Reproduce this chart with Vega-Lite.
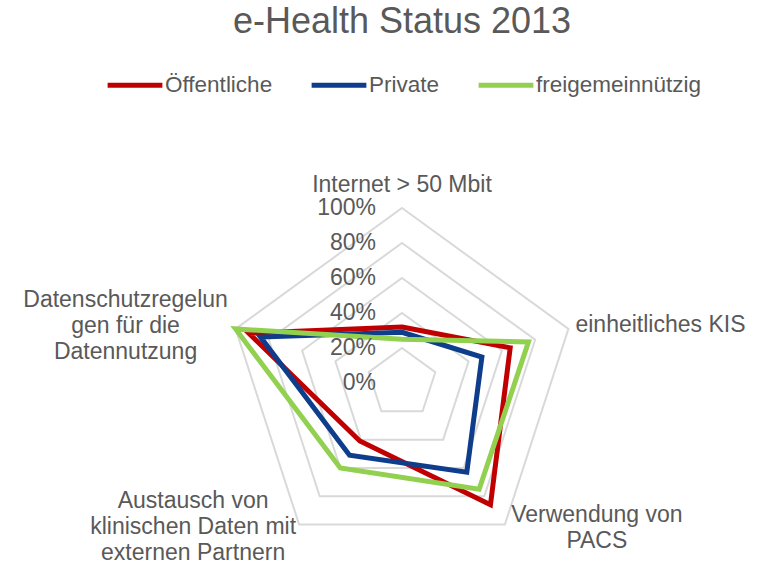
{
  "$schema": "https://vega.github.io/schema/vega-lite/v6.json",
  "width": 762,
  "height": 515,
  "autosize": {"type": "none"},
  "padding": {"top": 50, "left": 0, "right": 0, "bottom": 0},
  "background": "white",
  "title": {"text": "e-Health Status 2013", "fontSize": 36, "font": "Liberation Sans", "fontWeight": "normal", "color": "#595959", "anchor": "middle", "frame": "group", "offset": 9, "dx": 21},
  "config": {"view": {"stroke": null}, "font": "Liberation Sans"},
  "datasets": {
    "werte": [
      {"Gruppe": "Öffentliche", "Dimension": "Internet > 50 Mbit", "idx": 0, "Wert": 32},
      {"Gruppe": "Öffentliche", "Dimension": "einheitliches KIS", "idx": 1, "Wert": 65},
      {"Gruppe": "Öffentliche", "Dimension": "Verwendung von PACS", "idx": 2, "Wert": 86},
      {"Gruppe": "Öffentliche", "Dimension": "Austausch von klinischen Daten mit externen Partnern", "idx": 3, "Wert": 41},
      {"Gruppe": "Öffentliche", "Dimension": "Datenschutzregelungen für die Datennutzung", "idx": 4, "Wert": 92},
      {"Gruppe": "Private", "Dimension": "Internet > 50 Mbit", "idx": 0, "Wert": 29},
      {"Gruppe": "Private", "Dimension": "einheitliches KIS", "idx": 1, "Wert": 48},
      {"Gruppe": "Private", "Dimension": "Verwendung von PACS", "idx": 2, "Wert": 63},
      {"Gruppe": "Private", "Dimension": "Austausch von klinischen Daten mit externen Partnern", "idx": 3, "Wert": 51},
      {"Gruppe": "Private", "Dimension": "Datenschutzregelungen für die Datennutzung", "idx": 4, "Wert": 85},
      {"Gruppe": "freigemeinnützig", "Dimension": "Internet > 50 Mbit", "idx": 0, "Wert": 25},
      {"Gruppe": "freigemeinnützig", "Dimension": "einheitliches KIS", "idx": 1, "Wert": 76},
      {"Gruppe": "freigemeinnützig", "Dimension": "Verwendung von PACS", "idx": 2, "Wert": 75},
      {"Gruppe": "freigemeinnützig", "Dimension": "Austausch von klinischen Daten mit externen Partnern", "idx": 3, "Wert": 60},
      {"Gruppe": "freigemeinnützig", "Dimension": "Datenschutzregelungen für die Datennutzung", "idx": 4, "Wert": 100}
    ],
    "gitter": [
      {"level": 20, "idx": 0}, {"level": 20, "idx": 1}, {"level": 20, "idx": 2}, {"level": 20, "idx": 3}, {"level": 20, "idx": 4},
      {"level": 40, "idx": 0}, {"level": 40, "idx": 1}, {"level": 40, "idx": 2}, {"level": 40, "idx": 3}, {"level": 40, "idx": 4},
      {"level": 60, "idx": 0}, {"level": 60, "idx": 1}, {"level": 60, "idx": 2}, {"level": 60, "idx": 3}, {"level": 60, "idx": 4},
      {"level": 80, "idx": 0}, {"level": 80, "idx": 1}, {"level": 80, "idx": 2}, {"level": 80, "idx": 3}, {"level": 80, "idx": 4},
      {"level": 100, "idx": 0}, {"level": 100, "idx": 1}, {"level": 100, "idx": 2}, {"level": 100, "idx": 3}, {"level": 100, "idx": 4}
    ],
    "ticks": [
      {"level": 0}, {"level": 20}, {"level": 40}, {"level": 60}, {"level": 80}, {"level": 100}
    ],
    "achsen": [
      {"idx": 0, "label": "Internet > 50 Mbit"},
      {"idx": 1, "label": "einheitliches KIS"},
      {"idx": 2, "label": "Verwendung von\nPACS"},
      {"idx": 3, "label": "Austausch von\nklinischen Daten mit\nexternen Partnern"},
      {"idx": 4, "label": "Datenschutzregelun\ngen für die\nDatennutzung"}
    ]
  },
  "layer": [
    {
      "data": {"name": "gitter"},
      "transform": [
        {"calculate": "datum.level * sin(2 * PI * datum.idx / 5)", "as": "gx"},
        {"calculate": "datum.level * cos(2 * PI * datum.idx / 5)", "as": "gy"}
      ],
      "mark": {"type": "line", "interpolate": "linear-closed", "stroke": "#D9D9D9", "strokeWidth": 2},
      "encoding": {
        "x": {"field": "gx", "type": "quantitative", "axis": null, "scale": {"domain": [-229.71, 205.71], "nice": false, "zero": false}},
        "y": {"field": "gy", "type": "quantitative", "axis": null, "scale": {"domain": [-104, 190.29], "nice": false, "zero": false}},
        "detail": {"field": "level", "type": "nominal"},
        "order": {"field": "idx", "type": "quantitative"}
      }
    },
    {
      "data": {"name": "werte"},
      "transform": [
        {"calculate": "datum.Wert * sin(2 * PI * datum.idx / 5)", "as": "px"},
        {"calculate": "datum.Wert * cos(2 * PI * datum.idx / 5)", "as": "py"}
      ],
      "mark": {"type": "line", "interpolate": "linear-closed", "strokeWidth": 5, "strokeJoin": "miter"},
      "encoding": {
        "x": {"field": "px", "type": "quantitative", "axis": null, "scale": {"domain": [-229.71, 205.71], "nice": false, "zero": false}},
        "y": {"field": "py", "type": "quantitative", "axis": null, "scale": {"domain": [-104, 190.29], "nice": false, "zero": false}},
        "order": {"field": "idx", "type": "quantitative"},
        "color": {
          "field": "Gruppe", "type": "nominal",
          "scale": {"domain": ["Öffentliche", "Private", "freigemeinnützig"], "range": ["#C00000", "#0E3D8C", "#92D050"]},
          "legend": {"orient": "none", "legendX": 105, "legendY": 5, "direction": "horizontal", "title": null, "symbolType": "stroke", "symbolSize": 3000, "symbolStrokeWidth": 5, "labelFontSize": 22.5, "labelColor": "#595959", "labelFont": "Liberation Sans", "labelLimit": 300, "columnPadding": 28, "labelOffset": 0}
        }
      }
    },
    {
      "data": {"name": "ticks"},
      "transform": [{"calculate": "datum.level + '%'", "as": "label"}],
      "mark": {"type": "text", "align": "right", "baseline": "middle", "dx": -26, "fontSize": 23, "color": "#595959"},
      "encoding": {
        "x": {"datum": 0, "type": "quantitative", "scale": {"domain": [-229.71, 205.71], "nice": false, "zero": false}},
        "y": {"field": "level", "type": "quantitative", "scale": {"domain": [-104, 190.29], "nice": false, "zero": false}},
        "text": {"field": "label"}
      }
    },
    {
      "data": {"name": "achsen"},
      "transform": [
        {"filter": "datum.idx == 0"},
        {"calculate": "100 * sin(2 * PI * datum.idx / 5)", "as": "ax"},
        {"calculate": "100 * cos(2 * PI * datum.idx / 5)", "as": "ay"}
      ],
      "mark": {"type": "text", "align": "center", "baseline": "middle", "dy": -23, "fontSize": 23, "color": "#595959", "lineBreak": "\n", "lineHeight": 26},
      "encoding": {
        "x": {"field": "ax", "type": "quantitative", "scale": {"domain": [-229.71, 205.71], "nice": false, "zero": false}},
        "y": {"field": "ay", "type": "quantitative", "scale": {"domain": [-104, 190.29], "nice": false, "zero": false}},
        "text": {"field": "label"}
      }
    },
    {
      "data": {"name": "achsen"},
      "transform": [
        {"filter": "datum.idx == 1"},
        {"calculate": "100 * sin(2 * PI * datum.idx / 5)", "as": "ax"},
        {"calculate": "100 * cos(2 * PI * datum.idx / 5)", "as": "ay"}
      ],
      "mark": {"type": "text", "align": "left", "baseline": "middle", "dx": 7, "dy": -4, "fontSize": 23, "color": "#595959", "lineBreak": "\n", "lineHeight": 26},
      "encoding": {
        "x": {"field": "ax", "type": "quantitative", "scale": {"domain": [-229.71, 205.71], "nice": false, "zero": false}},
        "y": {"field": "ay", "type": "quantitative", "scale": {"domain": [-104, 190.29], "nice": false, "zero": false}},
        "text": {"field": "label"}
      }
    },
    {
      "data": {"name": "achsen"},
      "transform": [
        {"filter": "datum.idx == 2"},
        {"calculate": "100 * sin(2 * PI * datum.idx / 5)", "as": "ax"},
        {"calculate": "100 * cos(2 * PI * datum.idx / 5)", "as": "ay"}
      ],
      "mark": {"type": "text", "align": "center", "baseline": "middle", "dx": 92, "dy": -10, "fontSize": 23, "color": "#595959", "lineBreak": "\n", "lineHeight": 26},
      "encoding": {
        "x": {"field": "ax", "type": "quantitative", "scale": {"domain": [-229.71, 205.71], "nice": false, "zero": false}},
        "y": {"field": "ay", "type": "quantitative", "scale": {"domain": [-104, 190.29], "nice": false, "zero": false}},
        "text": {"field": "label"}
      }
    },
    {
      "data": {"name": "achsen"},
      "transform": [
        {"filter": "datum.idx == 3"},
        {"calculate": "100 * sin(2 * PI * datum.idx / 5)", "as": "ax"},
        {"calculate": "100 * cos(2 * PI * datum.idx / 5)", "as": "ay"}
      ],
      "mark": {"type": "text", "align": "center", "baseline": "middle", "dx": -106, "dy": -24, "fontSize": 23, "color": "#595959", "lineBreak": "\n", "lineHeight": 26},
      "encoding": {
        "x": {"field": "ax", "type": "quantitative", "scale": {"domain": [-229.71, 205.71], "nice": false, "zero": false}},
        "y": {"field": "ay", "type": "quantitative", "scale": {"domain": [-104, 190.29], "nice": false, "zero": false}},
        "text": {"field": "label"}
      }
    },
    {
      "data": {"name": "achsen"},
      "transform": [
        {"filter": "datum.idx == 4"},
        {"calculate": "100 * sin(2 * PI * datum.idx / 5)", "as": "ax"},
        {"calculate": "100 * cos(2 * PI * datum.idx / 5)", "as": "ay"}
      ],
      "mark": {"type": "text", "align": "center", "baseline": "middle", "dx": -110, "dy": -29, "fontSize": 23, "color": "#595959", "lineBreak": "\n", "lineHeight": 26},
      "encoding": {
        "x": {"field": "ax", "type": "quantitative", "scale": {"domain": [-229.71, 205.71], "nice": false, "zero": false}},
        "y": {"field": "ay", "type": "quantitative", "scale": {"domain": [-104, 190.29], "nice": false, "zero": false}},
        "text": {"field": "label"}
      }
    }
  ]
}
